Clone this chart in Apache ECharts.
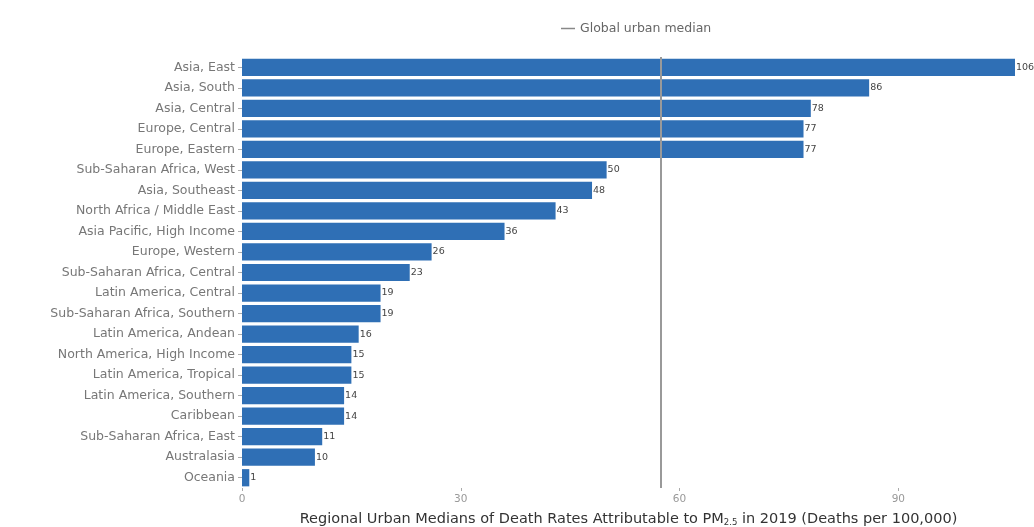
<!DOCTYPE html>
<html>
<head>
<meta charset="utf-8">
<script src="https://cdn.jsdelivr.net/npm/echarts@6/dist/echarts.min.js"></script>
<style>html,body{margin:0;padding:0;background:#fff}#c{width:1034px;height:527px}</style>
</head>
<body>
<div id="c"></div>
<script>
const categories = [
  'Asia, East', 'Asia, South', 'Asia, Central', 'Europe, Central', 'Europe, Eastern',
  'Sub-Saharan Africa, West', 'Asia, Southeast', 'North Africa / Middle East',
  'Asia Pacific, High Income', 'Europe, Western', 'Sub-Saharan Africa, Central',
  'Latin America, Central', 'Sub-Saharan Africa, Southern', 'Latin America, Andean',
  'North America, High Income', 'Latin America, Tropical', 'Latin America, Southern',
  'Caribbean', 'Sub-Saharan Africa, East', 'Australasia', 'Oceania'
];
const values = [106, 86, 78, 77, 77, 50, 48, 43, 36, 26, 23, 19, 19, 16, 15, 15, 14, 14, 11, 10, 1];
const globalMedian = 57.4;
const xTicks = [0, 30, 60, 90];

const font = 'DejaVu Sans, sans-serif';
const chart = echarts.init(document.getElementById('c'));
chart.setOption({
  animation: false,
  textStyle: { fontFamily: font },
  legend: {
    top: 17, left: 556,
    data: [{ name: 'Global urban median', icon: 'rect' }],
    itemWidth: 14, itemHeight: 1.5, itemGap: 8,
    textStyle: { fontSize: 12.5, color: '#666', fontFamily: font }
  },
  grid: { left: 242, right: 19, top: 57, bottom: 39, containLabel: false, outerBoundsMode: 'none' },
  xAxis: {
    type: 'value', min: 0, max: 106, interval: 30,
    axisLine: { show: false },
    axisTick: { show: true, length: 3, lineStyle: { color: '#aaa' } },
    splitLine: { show: false },
    axisLabel: {
      color: '#999', fontSize: 10.5, margin: 6, showMaxLabel: false,
      formatter: v => xTicks.includes(v) ? String(v) : ''
    },
    name: 'Regional Urban Medians of Death Rates Attributable to PM{sub|2.5} in 2019 (Deaths per 100,000)',
    nameLocation: 'middle', nameGap: 23,
    nameTextStyle: {
      fontSize: 14.5, color: '#333', fontFamily: font,
      rich: { sub: { fontSize: 8.5, color: '#333', fontFamily: font, verticalAlign: 'bottom', padding: [7, 0, 0, 0] } }
    }
  },
  yAxis: {
    type: 'category', data: categories, inverse: true,
    axisLine: { show: false },
    axisTick: { show: true, length: 4, alignWithLabel: true, lineStyle: { color: '#aaa' } },
    axisLabel: { color: '#777', fontSize: 12.5, margin: 7, fontFamily: font }
  },
  series: [
    {
      type: 'bar', name: 'Urban median', data: values,
      barCategoryGap: '16%',
      itemStyle: { color: '#2f6fb5' },
      label: { show: true, position: 'right', distance: 1, fontSize: 9.5, color: '#444', fontFamily: font }
    },
    {
      type: 'line', name: 'Global urban median', data: [],
      showSymbol: false,
      lineStyle: { color: '#888', width: 2 },
      itemStyle: { color: '#888' },
      markLine: {
        symbol: 'none', silent: true,
        label: { show: false },
        lineStyle: { color: '#999', width: 2, type: 'solid' },
        data: [{ xAxis: globalMedian }]
      }
    }
  ]
});
</script>
</body>
</html>
